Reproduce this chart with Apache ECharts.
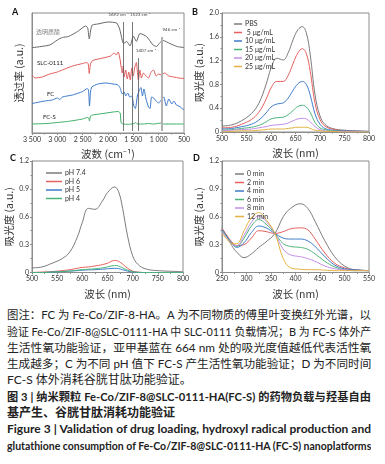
<!DOCTYPE html>
<html>
<head>
<meta charset="utf-8">
<script src="https://cdn.jsdelivr.net/npm/echarts@6/dist/echarts.min.js"></script>
<style>
  html, body { margin: 0; padding: 0; background: #fff; }
  #chart { position: absolute; left: 0; top: 0; width: 385px; height: 300px; }
  .ln {
    position: absolute; left: 7px; width: 364px; height: 16px; line-height: 16px;
    font-size: 12px; color: #222; white-space: nowrap; overflow: hidden;
    font-family: "Lato", "Noto Sans CJK SC", sans-serif;
    text-align: justify; text-align-last: justify;
  }
  .left { text-align-last: left; }
  .bold { font-weight: bold; }
</style>
</head>
<body>
<div id="chart"></div>
<div class="ln" style="top:307px">图注：FC 为 Fe-Co/ZIF-8-HA。A 为不同物质的傅里叶变换红外光谱，以</div>
<div class="ln" style="top:324px">验证 Fe-Co/ZIF-8@SLC-0111-HA 中 SLC-0111 负载情况；B 为 FC-S 体外产</div>
<div class="ln" style="top:340px">生活性氧功能验证，亚甲基蓝在 664 nm 处的吸光度值越低代表活性氧</div>
<div class="ln" style="top:356px">生成越多；C 为不同 pH 值下 FC-S 产生活性氧功能验证；D 为不同时间</div>
<div class="ln left" style="top:372px">FC-S 体外消耗谷胱甘肽功能验证。</div>
<div class="ln bold" style="top:389px">图 3 | 纳米颗粒 Fe-Co/ZIF-8@SLC-0111-HA(FC-S) 的药物负载与羟基自由</div>
<div class="ln bold left" style="top:405px">基产生、谷胱甘肽消耗功能验证</div>
<div class="ln bold" style="top:421px">Figure 3 | Validation of drug loading, hydroxyl radical production and</div>
<div class="ln bold" style="top:438px">glutathione consumption of Fe-Co/ZIF-8@SLC-0111-HA (FC-S) nanoplatforms</div>
<script>
// A: 红外光谱 [波数, 透过率(相对)]
const hyaluronicAcid = [[3500,85.3],[3150,88],[3000,93],[2900,95.5],[2780,96.5],[2600,101.5],[2440,107],[2400,105],[2370,94],[2340,103],[2310,108],[2200,109],[2000,111],[1830,110],[1770,104],[1720,93],[1692,89.5],[1630,91.5],[1565,87],[1500,97],[1440,91.5],[1370,99.5],[1240,96.5],[1110,88],[1040,86.5],[975,90.5],[910,92.5],[780,89.5],[640,86.5],[500,85.5]];
const slc0111 = [[3500,58],[3440,55],[3300,56],[3150,59],[3000,61],[2900,63],[2700,67],[2500,69.5],[2420,70.5],[2390,69],[2370,59.5],[2345,69],[2300,72.5],[2100,75],[1950,77],[1880,80],[1840,78],[1800,81],[1770,76],[1740,66],[1720,60],[1700,67],[1680,56],[1650,63],[1620,54],[1590,61],[1560,53],[1530,65],[1500,57],[1470,66],[1440,70.5],[1420,61],[1400,53],[1370,63],[1340,55],[1300,60],[1250,57],[1200,55],[1150,61],[1100,63],[1050,57],[1000,59],[950,58],[880,60],[800,57],[700,56],[600,55],[500,54.5]];
const fcIR = [[3500,29.5],[3400,30.5],[3250,32],[3100,33],[3000,35],[2950,33.5],[2900,36],[2700,38],[2500,41.5],[2410,44.5],[2385,43],[2365,27],[2345,41],[2320,46],[2200,49],[2050,50],[1900,49],[1800,48],[1760,45],[1720,39],[1680,41],[1650,37],[1610,40],[1570,36],[1530,37],[1490,27],[1460,24.5],[1420,37],[1380,43],[1350,45.5],[1320,37],[1290,44],[1250,34],[1200,26],[1170,24.5],[1140,36],[1100,35],[1050,32],[1000,30],[950,33],[900,36],[850,27],[800,34],[740,29],[700,32],[650,28],[600,27],[500,23]];
const fcsIR = [[3500,9],[3200,9.5],[3000,10.5],[2800,11.5],[2500,14],[2410,15.5],[2380,15],[2365,12],[2345,17],[2300,18],[2100,19.5],[1900,21],[1800,21.5],[1760,20],[1740,10],[1700,9],[1600,8.7],[1480,9.5],[1450,10.5],[1420,9],[1300,9],[1200,9.5],[1100,9],[950,10],[900,9],[700,9],[500,9]];
const peakMarks = [1692, 1523, 1407, 946];

// B: 不同浓度 FC-S
const wavelengthB = [500,520,540,560,575,590,600,612,625,635,645,655,664,672,680,690,700,710,725,750,800];
const mbPBS = [0.10,0.12,0.19,0.31,0.48,0.80,1.07,1.24,1.21,1.33,1.55,1.72,1.77,1.67,1.30,0.62,0.27,0.13,0.06,0.03,0.01];
const mb5 = [0.07,0.08,0.13,0.21,0.33,0.55,0.74,0.85,0.85,0.95,1.15,1.33,1.40,1.32,1.02,0.48,0.21,0.10,0.05,0.02,0.01];
const mb10 = [0.05,0.06,0.09,0.13,0.20,0.32,0.42,0.47,0.49,0.57,0.70,0.81,0.85,0.80,0.62,0.30,0.13,0.06,0.03,0.02,0.01];
const mb15 = [0.03,0.04,0.06,0.08,0.11,0.17,0.22,0.24,0.25,0.29,0.36,0.43,0.45,0.42,0.33,0.16,0.07,0.04,0.02,0.01,0.00];
const mb20 = [0.02,0.03,0.04,0.05,0.07,0.09,0.11,0.12,0.13,0.15,0.19,0.22,0.23,0.22,0.17,0.09,0.04,0.02,0.01,0.01,0.00];
const mb25 = [0.00,0.01,0.02,0.02,0.03,0.04,0.05,0.05,0.05,0.06,0.07,0.08,0.08,0.08,0.06,0.03,0.02,0.01,0.01,0.00,0.00];

// C: 不同 pH
const wavelengthC = [500,520,540,560,575,590,600,612,625,640,650,664,672,680,690,700,710,725,750,800];
const ph74 = [0.05,0.06,0.10,0.15,0.22,0.38,0.54,0.69,0.68,0.77,0.86,0.92,0.87,0.69,0.39,0.18,0.09,0.04,0.02,0.01];
const ph6 = [0.00,0.005,0.01,0.02,0.03,0.045,0.055,0.06,0.07,0.085,0.10,0.13,0.12,0.09,0.045,0.015,0.005,0,0,0];
const ph5 = [0,0,0.005,0.01,0.015,0.02,0.025,0.028,0.03,0.035,0.04,0.045,0.042,0.03,0.015,0.005,0,0,0,0];
const ph4 = [0,0,0.005,0.01,0.015,0.025,0.03,0.035,0.04,0.05,0.06,0.075,0.07,0.05,0.025,0.008,0.002,0,0,0];

// D: 不同时间 GSH 消耗
const wavelengthD = [250,260,270,280,295,310,325,340,358,375,390,410,425,440,460,480,500,520,550];
const gsh0 = [0.48,0.39,0.29,0.22,0.16,0.20,0.27,0.33,0.42,0.60,0.69,0.74,0.69,0.55,0.34,0.17,0.07,0.03,0.02];
const gsh2 = [0.47,0.40,0.33,0.29,0.30,0.37,0.45,0.44,0.42,0.44,0.47,0.48,0.46,0.36,0.21,0.10,0.05,0.03,0.02];
const gsh4 = [0.46,0.39,0.32,0.27,0.32,0.43,0.50,0.48,0.42,0.37,0.36,0.36,0.34,0.28,0.17,0.08,0.04,0.03,0.02];
const gsh6 = [0.45,0.38,0.31,0.28,0.37,0.50,0.57,0.52,0.42,0.31,0.28,0.27,0.25,0.20,0.12,0.06,0.03,0.02,0.02];
const gsh8 = [0.44,0.37,0.31,0.29,0.40,0.54,0.61,0.55,0.42,0.25,0.19,0.17,0.15,0.12,0.07,0.04,0.03,0.02,0.02];
const gsh12 = [0.42,0.36,0.31,0.31,0.45,0.59,0.645,0.57,0.42,0.15,0.05,0.035,0.03,0.03,0.025,0.02,0.02,0.02,0.02];

const C_GRAY = '#7b7b7b', C_RED = '#e5605f', C_BLUE = '#3d7cc9', C_GREEN = '#4cb47a', C_VIOLET = '#c48ee6', C_GOLD = '#e3b341';

// 图注：逐行缩小字号直到放得下
document.querySelectorAll('.ln').forEach(el => {
  let fs = 12;
  while (el.scrollWidth > el.clientWidth + 0.5 && fs > 8) {
    fs -= 0.1;
    el.style.fontSize = fs + 'px';
  }
});

const chart = echarts.init(document.getElementById('chart'));

const frame = '#8c8c8c';
const lab = { fontSize: 7, color: '#333', fontFamily: 'Lato', margin: 3 };
const nameStyle = { fontSize: 10.5, color: '#333', fontFamily: 'Noto Sans CJK SC' };

function xAxisOf(gi, min, max, name, inverse, fmt) {
  return {
    gridIndex: gi, type: 'value', min: min, max: max, interval: 50, inverse: !!inverse,
    name: name, nameLocation: 'middle', nameGap: 16, nameTextStyle: nameStyle,
    axisLine: { lineStyle: { color: frame } },
    axisTick: { length: 2, lineStyle: { color: frame } },
    minorTick: { show: true, splitNumber: 2, length: 1.5, lineStyle: { color: frame } },
    axisLabel: Object.assign({}, lab, fmt ? { formatter: fmt } : {}),
    splitLine: { show: false }
  };
}
function yAxisOf(gi, max, interval, nameGap, hideLabels) {
  return {
    gridIndex: gi, type: 'value', min: 0, max: max, interval: interval,
    name: '吸光度 (a.u.)', nameLocation: 'middle', nameGap: nameGap, nameTextStyle: nameStyle,
    axisLine: { show: true, lineStyle: { color: frame } },
    axisTick: { show: !hideLabels, length: 2, lineStyle: { color: frame } },
    minorTick: { show: !hideLabels, splitNumber: 2, length: 1.5, lineStyle: { color: frame } },
    axisLabel: Object.assign({}, lab, { show: !hideLabels, formatter: v => v === 0 ? '0' : v.toFixed(1) }),
    splitLine: { show: false }
  };
}
function curve(name, gi, xs, ys, color) {
  return {
    name: name, type: 'line', xAxisIndex: gi, yAxisIndex: gi,
    data: xs.map((x, i) => [x, ys[i]]), smooth: 0.4, symbol: 'none',
    lineStyle: { color: color, width: 1 }, itemStyle: { color: color }
  };
}
function irCurve(gi, pts, color) {
  return {
    type: 'line', xAxisIndex: gi, yAxisIndex: gi, data: pts, smooth: 0.2, symbol: 'none',
    lineStyle: { color: color, width: 1 }
  };
}
function legendOf(names, left, top, iw) {
  return {
    data: names, orient: 'vertical', left: left, top: top, itemWidth: iw, itemHeight: 1.5,
    itemGap: 0.5, icon: 'rect', selectedMode: false,
    textStyle: { fontSize: 7, lineHeight: 8, color: '#333', fontFamily: 'Lato', padding: [0, 0, 0, -2] }
  };
}

const irAxisA = xAxisOf(0, 500, 3500, '波数 (cm⁻¹)', true,
  v => v >= 1000 ? Math.floor(v / 1000) + ' ' + String(v % 1000).padStart(3, '0') : String(v));
irAxisA.interval = 500;
const yA = yAxisOf(0, 120, 20, 8, true);
yA.name = '透过率 (a.u.)';

const fcsSeries = irCurve(0, fcsIR, '#3fae6a');
fcsSeries.markLine = {
  silent: true, symbol: 'none', animation: false,
  label: { show: true, position: 'end', fontSize: 4.5, color: '#444', fontFamily: 'Lato' },
  data: peakMarks.map((w, i) => {
    const tops = [111, 111, 75, 96];
    const offs = [[-5, 0], [8, 0], [8, 0], [10, 0]];
    return [
      { coord: [w, 2], lineStyle: { color: i === 3 ? '#b0b0b0' : '#555', width: i === 3 ? 2 : 0.8, type: 'solid' },
        label: { formatter: w + ' cm⁻¹', offset: offs[i] } },
      { coord: [w, tops[i]] }
    ];
  })
};

const option = {
  animation: false,
  grid: [
    { left: 32, top: 13, width: 152, height: 120, show: true, borderColor: frame, borderWidth: 1 },
    { left: 222, top: 13, width: 147, height: 119, show: true, borderColor: frame, borderWidth: 1 },
    { left: 32, top: 161, width: 151, height: 119, show: true, borderColor: frame, borderWidth: 1 },
    { left: 222, top: 161, width: 147, height: 119, show: true, borderColor: frame, borderWidth: 1 }
  ],
  xAxis: [
    irAxisA,
    xAxisOf(1, 500, 800, '波长 (nm)'),
    xAxisOf(2, 500, 800, '波长 (nm)'),
    xAxisOf(3, 250, 550, '波长 (nm)')
  ],
  yAxis: [
    yA,
    yAxisOf(1, 2.0, 0.4, 18),
    yAxisOf(2, 1.2, 0.3, 18),
    yAxisOf(3, 1.2, 0.3, 18)
  ],
  legend: [
    legendOf(['PBS', ' 5 μg/mL', '10 μg/mL', '15 μg/mL', '20 μg/mL', '25 μg/mL'], 229, 15, 8),
    legendOf(['pH 7.4', 'pH 6', 'pH 5', 'pH 4'], 41, 164, 16),
    legendOf(['0 min', '2 min', '4 min', '6 min', '8 min', '12 min'], 230, 165, 9)
  ],
  graphic: [
    { type: 'text', left: 12, top: 8, style: { text: 'A', font: 'bold 9px Lato', fill: '#111' } },
    { type: 'text', left: 192, top: 8, style: { text: 'B', font: 'bold 9px Lato', fill: '#111' } },
    { type: 'text', left: 10, top: 154, style: { text: 'C', font: 'bold 9px Lato', fill: '#111' } },
    { type: 'text', left: 193, top: 154, style: { text: 'D', font: 'bold 9px Lato', fill: '#111' } },
    { type: 'text', left: 36, top: 29, style: { text: '透明质酸', font: '6px "Noto Sans CJK SC"', fill: '#888' } },
    { type: 'text', left: 37, top: 60, style: { text: 'SLC-0111', font: '6px Lato', fill: '#222' } },
    { type: 'text', left: 47, top: 91, style: { text: 'FC', font: '6px Lato', fill: '#222' } },
    { type: 'text', left: 43, top: 114, style: { text: 'FC-S', font: '6px Lato', fill: '#222' } }
  ],
  series: [
    irCurve(0, hyaluronicAcid, '#666'),
    irCurve(0, slc0111, '#e05a5a'),
    irCurve(0, fcIR, '#3b78c9'),
    fcsSeries,
    curve('PBS', 1, wavelengthB, mbPBS, C_GRAY),
    curve(' 5 μg/mL', 1, wavelengthB, mb5, C_RED),
    curve('10 μg/mL', 1, wavelengthB, mb10, C_BLUE),
    curve('15 μg/mL', 1, wavelengthB, mb15, C_GREEN),
    curve('20 μg/mL', 1, wavelengthB, mb20, C_VIOLET),
    curve('25 μg/mL', 1, wavelengthB, mb25, C_GOLD),
    curve('pH 7.4', 2, wavelengthC, ph74, C_GRAY),
    curve('pH 6', 2, wavelengthC, ph6, C_RED),
    curve('pH 5', 2, wavelengthC, ph5, C_BLUE),
    curve('pH 4', 2, wavelengthC, ph4, C_GREEN),
    curve('0 min', 3, wavelengthD, gsh0, C_GRAY),
    curve('2 min', 3, wavelengthD, gsh2, C_RED),
    curve('4 min', 3, wavelengthD, gsh4, C_BLUE),
    curve('6 min', 3, wavelengthD, gsh6, C_GREEN),
    curve('8 min', 3, wavelengthD, gsh8, C_VIOLET),
    curve('12 min', 3, wavelengthD, gsh12, C_GOLD)
  ]
};

chart.setOption(option);
</script>
</body>
</html>
